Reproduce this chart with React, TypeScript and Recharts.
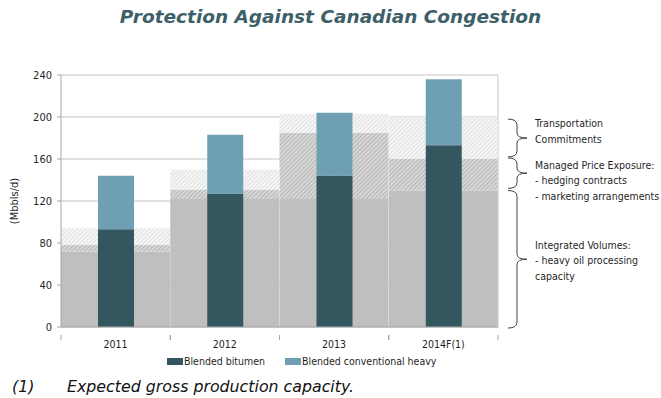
import React from 'react';
import {
  BarChart,
  Bar,
  XAxis,
  YAxis,
  CartesianGrid,
  Legend,
  ReferenceArea,
} from 'recharts';

// Categories and series values (Mbbls/d)
const years = ['2011', '2012', '2013', '2014F(1)'];
const blendedBitumen = [93, 127, 144, 173];
const blendedConventionalHeavy = [51, 56, 60, 63];
// Background capacity layers (stacked increments)
const integratedVolumes = [72, 122, 122, 130];
const managedPriceExposure = [6, 9, 63, 30];
const transportationCommitments = [16, 19, 18, 40];
const yTicks = [0, 40, 80, 120, 160, 200, 240];

// Brace bands on the right (value ranges) and their text
const braceBands = [
  { from: 162, to: 198, lines: ['Transportation', 'Commitments'], textTop: 4 },
  { from: 132, to: 161, lines: ['Managed Price Exposure:', '- hedging contracts', '- marketing arrangements'], textTop: 7 },
  { from: -1, to: 130, lines: ['Integrated Volumes:', '- heavy oil processing', 'capacity'], textTop: 54 },
];

const data = years.map((year, i) => ({
  year,
  bitumen: blendedBitumen[i],
  convHeavy: blendedConventionalHeavy[i],
  integrated: integratedVolumes[i],
  managed: managedPriceExposure[i],
  transport: transportationCommitments[i],
}));

const W = 661;
const H = 398;
const MARGIN = { top: 75, right: 163, bottom: 46, left: 0 };
const Y_AXIS_W = 61;
const PLOT_W = W - MARGIN.left - MARGIN.right - Y_AXIS_W;
const BAND = PLOT_W / years.length;

const FONT = '"DejaVu Sans Condensed", "DejaVu Sans", sans-serif';
const AXIS_GREY = '#a6a6a6';
const TEXT = '#1f1f1f';
const DARK = '#34575f';
const LIGHT = '#6f9fb2';

const XTick = (props: any) => {
  const { x, y, payload } = props;
  const half = BAND / 2;
  return (
    <g>
      <line x1={x - half} y1={y} x2={x - half} y2={y + 5} stroke={AXIS_GREY} />
      <line x1={x + half} y1={y} x2={x + half} y2={y + 5} stroke={AXIS_GREY} />
      <text x={x} y={y + 13} textAnchor="middle" fontSize={10.5} fill={TEXT} fontFamily={FONT}>
        {payload.value}
      </text>
    </g>
  );
};

const makeBrace = (lines: string[], textTop: number) => (props: any) => {
  const { x, y, width, height } = props;
  const bx = x + width + 10;
  const top = y;
  const bot = y + height;
  const mid = (top + bot) / 2;
  const vx = bx + 9;
  const tip = bx + 19;
  const d = `M ${bx} ${top} Q ${vx} ${top} ${vx} ${top + 6} L ${vx} ${mid - 5} Q ${vx} ${mid} ${tip} ${mid} Q ${vx} ${mid} ${vx} ${mid + 5} L ${vx} ${bot - 6} Q ${vx} ${bot} ${bx} ${bot}`;
  return (
    <g>
      <path d={d} fill="none" stroke="#404040" strokeWidth={1} />
      {lines.map((t, i) => (
        <text
          key={t}
          x={bx + 27}
          y={top + textTop + i * 15.5}
          dominantBaseline="central"
          fontSize={10.5}
          fill={TEXT}
          fontFamily={FONT}
        >
          {t}
        </text>
      ))}
    </g>
  );
};

const LegendContent = () => {
  const items = [
    { label: 'Blended bitumen', color: DARK },
    { label: 'Blended conventional heavy', color: LIGHT },
  ];
  return (
    <div style={{ display: 'flex', justifyContent: 'flex-start', paddingLeft: 167, fontFamily: FONT, fontSize: 10.5, color: TEXT }}>
      {items.map((it) => (
        <div key={it.label} style={{ display: 'flex', alignItems: 'center', marginRight: 20 }}>
          <span style={{ display: 'inline-block', width: 16, height: 7, background: it.color, marginRight: 1 }} />
          <span>{it.label}</span>
        </div>
      ))}
    </div>
  );
};

export default function App() {
  return (
    <div style={{ position: 'absolute', left: 0, top: 0, width: W, height: H, background: '#fff' }}>
      <div
        style={{
          position: 'absolute',
          left: 0,
          top: 6,
          width: W,
          textAlign: 'center',
          fontFamily: '"DejaVu Sans", sans-serif',
          fontWeight: 'bold',
          fontStyle: 'italic',
          fontSize: 18.5,
          color: '#3e5f69',
        }}
      >
        Protection Against Canadian Congestion
      </div>
      <BarChart
        width={W}
        height={H}
        data={data}
        margin={MARGIN}
        barCategoryGap={0}
        barGap={0}
      >
        <defs>
          <pattern id="hatchManaged" width="3" height="3" patternUnits="userSpaceOnUse" patternTransform="rotate(45)">
            <rect width="3" height="3" fill="#d6d6d6" />
            <line x1="0" y1="0" x2="0" y2="3" stroke="#a2a29c" strokeWidth="1.2" />
          </pattern>
          <pattern id="hatchTransport" width="3" height="3" patternUnits="userSpaceOnUse" patternTransform="rotate(45)">
            <rect width="3" height="3" fill="#f6f6f6" />
            <line x1="0" y1="0" x2="0" y2="3" stroke="#d2d2d2" strokeWidth="1.2" />
          </pattern>
        </defs>
        <CartesianGrid
          stroke="#c4c4c4"
          vertical={true}
          verticalCoordinatesGenerator={({ offset }: any) => [offset.left + offset.width]}
        />
        <XAxis
          xAxisId="main"
          dataKey="year"
          height={25}
          tickLine={false}
          axisLine={{ stroke: AXIS_GREY }}
          tick={<XTick />}
          interval={0}
        />
        <XAxis xAxisId="bg" dataKey="year" hide height={0} />
        <YAxis
          width={Y_AXIS_W}
          domain={[0, 240]}
          ticks={yTicks}
          interval={0}
          axisLine={{ stroke: AXIS_GREY }}
          tickLine={{ stroke: AXIS_GREY }}
          tickSize={4}
          tickMargin={5}
          tick={{ fontSize: 11, fill: TEXT, fontFamily: FONT }}
          label={{
            content: (p: any) => {
              const vb = p.viewBox;
              const cy = vb.y + vb.height / 2;
              return (
                <text
                  x={14}
                  y={cy}
                  transform={`rotate(-90 14 ${cy})`}
                  textAnchor="middle"
                  dominantBaseline="central"
                  fontSize={11}
                  fill={TEXT}
                  fontFamily={FONT}
                >
                  (Mbbls/d)
                </text>
              );
            },
          }}
        />
        <Bar xAxisId="bg" dataKey="integrated" stackId="bg" fill="#bfbfbf" isAnimationActive={false} legendType="none" />
        <Bar xAxisId="bg" dataKey="managed" stackId="bg" fill="url(#hatchManaged)" isAnimationActive={false} legendType="none" />
        <Bar xAxisId="bg" dataKey="transport" stackId="bg" fill="url(#hatchTransport)" isAnimationActive={false} legendType="none" />
        <Bar xAxisId="main" dataKey="bitumen" name="Blended bitumen" stackId="fg" fill={DARK} barSize={36} isAnimationActive={false} />
        <Bar xAxisId="main" dataKey="convHeavy" name="Blended conventional heavy" stackId="fg" fill={LIGHT} barSize={36} isAnimationActive={false} />
        {braceBands.map((b) => (
          <ReferenceArea
            key={b.lines[0]}
            xAxisId="main"
            y1={b.from}
            y2={b.to}
            fill="none"
            stroke="none"
            ifOverflow="visible"
            shape={makeBrace(b.lines, b.textTop)}
          />
        ))}
        <Legend
          layout="horizontal"
          verticalAlign="middle"
          align="center"
          wrapperStyle={{ position: 'absolute', top: 355, left: 0, width: W }}
          content={<LegendContent />}
        />
      </BarChart>
      <div
        style={{
          position: 'absolute',
          left: 12,
          top: 377,
          fontFamily: '"DejaVu Sans", sans-serif',
          fontStyle: 'italic',
          fontSize: 15.8,
          color: '#111',
          whiteSpace: 'nowrap',
        }}
      >
        <span>(1)</span>
        <span style={{ position: 'absolute', left: 55 }}>Expected gross production capacity.</span>
      </div>
    </div>
  );
}
